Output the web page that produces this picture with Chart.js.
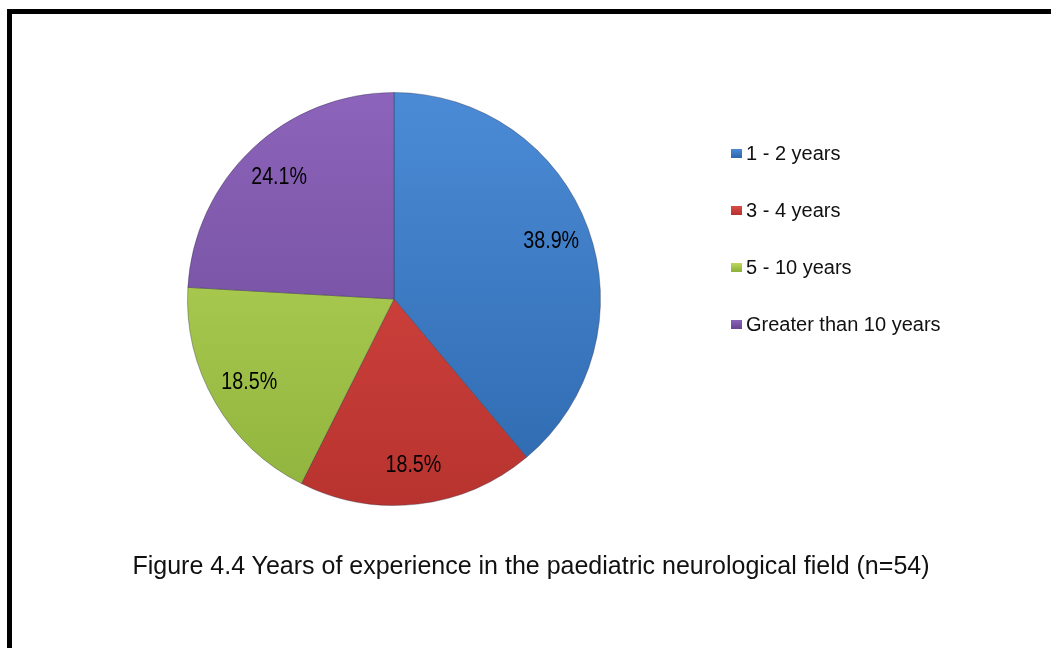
<!DOCTYPE html>
<html>
<head>
<meta charset="utf-8">
<script src="https://cdn.jsdelivr.net/npm/chart.js@4.4.1/dist/chart.umd.min.js"></script>
<style>
    html, body { margin: 0; padding: 0; background: #fff; overflow: hidden; }
    #frame {
        position: absolute; left: 7px; top: 9px; width: 1100px; height: 700px;
        border-left: 5px solid #000; border-top: 5px solid #000;
    }
    #chart { position: absolute; left: 0; top: 0; }
    #caption {
        position: absolute; left: 531px; top: 551px; transform: translateX(-50%);
        white-space: nowrap; color: #111;
        font-family: "Liberation Sans Narrow", "Arial Narrow", "Liberation Sans", sans-serif;
        font-size: 25px;
    }
</style>
</head>
<body>
<div id="frame"></div>
<canvas id="chart" width="1051" height="648"></canvas>
<div id="caption">Figure 4.4 Years of experience in the paediatric neurological field (n=54)</div>
<script>
// ==================== DATOS ====================
const categories = ['1 - 2 years', '3 - 4 years', '5 - 10 years', 'Greater than 10 years'];
const percentValues = [38.9, 18.5, 18.5, 24.1];

// colores (arriba / abajo del degradado)
const topColors = ['#4b8bd6', '#dc4b45', '#bcd95c', '#8c64bb'];
const bottomColors = ['#2e69ae', '#b8332f', '#8fb33d', '#6a4793'];

const labelFont = '"Liberation Sans Narrow", "Arial Narrow", "Liberation Sans", sans-serif';

// ==================== PLUGINS ====================
// etiquetas de porcentaje (texto estrecho simulado con scale)
const sliceLabels = {
    id: 'sliceLabels',
    afterDatasetsDraw(chart) {
        const ctx = chart.ctx;
        const meta = chart.getDatasetMeta(0);
        meta.data.forEach((arc, i) => {
            const p = arc.getProps(['x', 'y', 'startAngle', 'endAngle', 'outerRadius'], true);
            const mid = (p.startAngle + p.endAngle) / 2;
            const r = p.outerRadius * 0.81;
            const value = chart.data.datasets[0].data[i];
            ctx.save();
            ctx.translate(p.x + Math.cos(mid) * r, p.y + Math.sin(mid) * r);
            ctx.scale(0.82, 1);
            ctx.fillStyle = '#000';
            ctx.font = '24px ' + labelFont;
            ctx.textAlign = 'center';
            ctx.textBaseline = 'middle';
            ctx.fillText(value.toFixed(1) + '%', 0, 0);
            ctx.restore();
        });
    }
};

const sideLegend = {
    id: 'sideLegend',
    afterDraw(chart) {
        const ctx = chart.ctx;
        ctx.save();
        ctx.font = '20px ' + labelFont;
        ctx.textBaseline = 'middle';
        chart.data.labels.forEach((label, i) => {
            const y = 153 + i * 57;
            const g = ctx.createLinearGradient(0, y - 4, 0, y + 4);
            g.addColorStop(0, topColors[i]);
            g.addColorStop(1, bottomColors[i]);
            ctx.fillStyle = g;
            ctx.fillRect(731, y - 4, 11, 9);
            ctx.fillStyle = '#111';
            ctx.fillText(label, 746, y + 1);
        });
        ctx.restore();
    }
};

// ==================== CHART ====================
function sliceFill(context) {
    const i = context.dataIndex;
    const area = context.chart.chartArea;
    if (!area) return topColors[i];
    const g = context.chart.ctx.createLinearGradient(0, area.top, 0, area.bottom);
    g.addColorStop(0, topColors[i]);
    g.addColorStop(1, bottomColors[i]);
    return g;
}

const chart = new Chart(document.getElementById('chart'), {
    type: 'pie',
    data: {
        labels: categories,
        datasets: [{
            data: percentValues,
            backgroundColor: sliceFill,
            borderColor: 'rgba(40,40,60,0.35)',
            borderWidth: 1
        }]
    },
    options: {
        responsive: false,
        animation: false,
        layout: { padding: { left: 187, right: 450, top: 92, bottom: 142 } },
        plugins: {
            legend: { display: false },
            tooltip: { enabled: false }
        }
    },
    plugins: [sliceLabels, sideLegend]
});
</script>
</body>
</html>
